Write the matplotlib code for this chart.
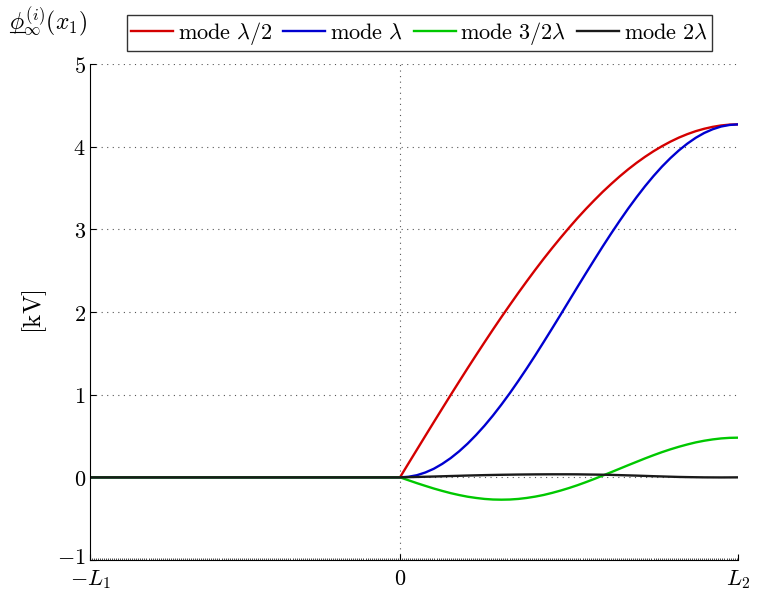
import matplotlib
matplotlib.use("Agg")
import matplotlib.pyplot as plt
import matplotlib.transforms as mtransforms
from matplotlib.lines import Line2D
from matplotlib.ticker import MultipleLocator

plt.rcParams['mathtext.fontset'] = 'cm'
plt.rcParams['font.family'] = 'DejaVu Serif'

L1 = 0.917
L2 = 1.0

# positions along the domain (negative side is flat zero)
x_neg = [-0.917, -0.5]
x_pos = [0.0, 0.025, 0.05, 0.075, 0.1, 0.125, 0.15, 0.175, 0.2, 0.225, 0.25, 0.275, 0.3,
         0.325, 0.35, 0.375, 0.4, 0.425, 0.45, 0.475, 0.5, 0.525, 0.55, 0.575, 0.6,
         0.625, 0.65, 0.675, 0.7, 0.725, 0.75, 0.775, 0.8, 0.825, 0.85, 0.875, 0.9,
         0.925, 0.95, 0.975, 1.0]

mode_half = [0, 0.168, 0.335, 0.502, 0.668, 0.833, 0.997, 1.159, 1.320, 1.478, 1.634,
             1.788, 1.939, 2.086, 2.231, 2.372, 2.510, 2.644, 2.773, 2.898, 3.019, 3.136,
             3.247, 3.353, 3.455, 3.550, 3.641, 3.726, 3.805, 3.878, 3.945, 4.006, 4.061,
             4.110, 4.152, 4.188, 4.217, 4.240, 4.257, 4.267, 4.270]
mode_one = [0, 0.007, 0.026, 0.059, 0.104, 0.163, 0.233, 0.315, 0.408, 0.512, 0.625,
            0.748, 0.880, 1.019, 1.166, 1.318, 1.475, 1.637, 1.801, 1.967, 2.135, 2.303,
            2.469, 2.633, 2.795, 2.952, 3.104, 3.251, 3.390, 3.522, 3.645, 3.759, 3.862,
            3.955, 4.037, 4.108, 4.166, 4.211, 4.244, 4.263, 4.270]
mode_three_half = [0, -0.035, -0.070, -0.103, -0.135, -0.164, -0.191, -0.214, -0.234,
                   -0.249, -0.261, -0.268, -0.270, -0.268, -0.261, -0.249, -0.233, -0.213,
                   -0.188, -0.160, -0.129, -0.095, -0.058, -0.019, 0.022, 0.063, 0.105,
                   0.147, 0.188, 0.229, 0.268, 0.305, 0.339, 0.370, 0.398, 0.423, 0.443,
                   0.459, 0.471, 0.478, 0.480]
mode_two = [0, 0.0025, 0.005, 0.0075, 0.010, 0.013, 0.016, 0.019, 0.022, 0.0245, 0.027,
            0.029, 0.031, 0.0325, 0.034, 0.035, 0.036, 0.0365, 0.037, 0.037, 0.037, 0.0365,
            0.035, 0.0335, 0.032, 0.030, 0.027, 0.024, 0.021, 0.0175, 0.014, 0.011, 0.008,
            0.005, 0.003, 0.0015, 0.0, -0.0005, -0.001, -0.0005, 0]

labels = [r'$\mathrm{mode}\ \lambda/2$', r'$\mathrm{mode}\ \lambda$',
          r'$\mathrm{mode}\ 3/2\lambda$', r'$\mathrm{mode}\ 2\lambda$']
colors = ['#d40000', '#0000d0', '#00c800', '#1a1a1a']

fig = plt.figure(figsize=(7.61, 5.94), dpi=100)
ax = fig.add_axes([0.1183, 0.0572, 0.8515, 0.835])

x = x_neg + x_pos
for ys, c, lab in zip([mode_half, mode_one, mode_three_half, mode_two], colors, labels):
    ax.plot(x, [0] * len(x_neg) + ys, color=c, lw=1.7, label=lab)

ax.set_xlim(-L1, L2)
ax.set_ylim(-1, 5)
ax.set_xticks([-L1, 0, L2])
ax.set_xticklabels([r'$-L_1$', r'$0$', r'$L_2$'], fontsize=16)
ax.set_yticks(range(-1, 6))
ax.set_yticklabels([r'$%d$' % v if v >= 0 else r'$-%d$' % -v for v in range(-1, 6)], fontsize=16)
ax.xaxis.set_minor_locator(MultipleLocator(0.006))
ax.tick_params(axis='x', which='minor', length=1.5, direction='in', width=0.5)
ax.tick_params(axis='both', which='major', direction='in', length=4)
ax.tick_params(axis='x', pad=6)
ax.tick_params(axis='y', pad=3)

# nudge the lowest y label up a little so it doesn't collide with -L1
lowest = ax.get_yticklabels()[0]
lowest.set_transform(lowest.get_transform() +
                     mtransforms.ScaledTranslation(0, 3 / 72, fig.dpi_scale_trans))

ax.spines['top'].set_visible(False)
ax.spines['right'].set_visible(False)
ax.yaxis.grid(True, linestyle=(0, (1, 4)), color='#555555', lw=0.8)
ax.axvline(0, linestyle=(0, (1, 4)), color='#555555', lw=0.8, zorder=0)
ax.set_axisbelow(True)

ax.set_ylabel(r'$[\mathrm{kV}]$', fontsize=18, labelpad=6)

fig.text(0.012, 0.962, r'$\phi_{\infty}^{(i)}(x_1)$', fontsize=17, va='center', ha='left')
fig.add_artist(Line2D([0.013, 0.033], [0.946, 0.946], transform=fig.transFigure,
                      color='black', lw=0.8))

leg = fig.legend(loc='center', bbox_to_anchor=(0.551, 0.944), ncol=4, fontsize=16,
                 frameon=True, fancybox=False, edgecolor='black', handlelength=1.9,
                 handletextpad=0.2, columnspacing=0.5, borderpad=0.2)
leg.get_frame().set_linewidth(1.0)

fig.savefig('out.png', dpi=100)
